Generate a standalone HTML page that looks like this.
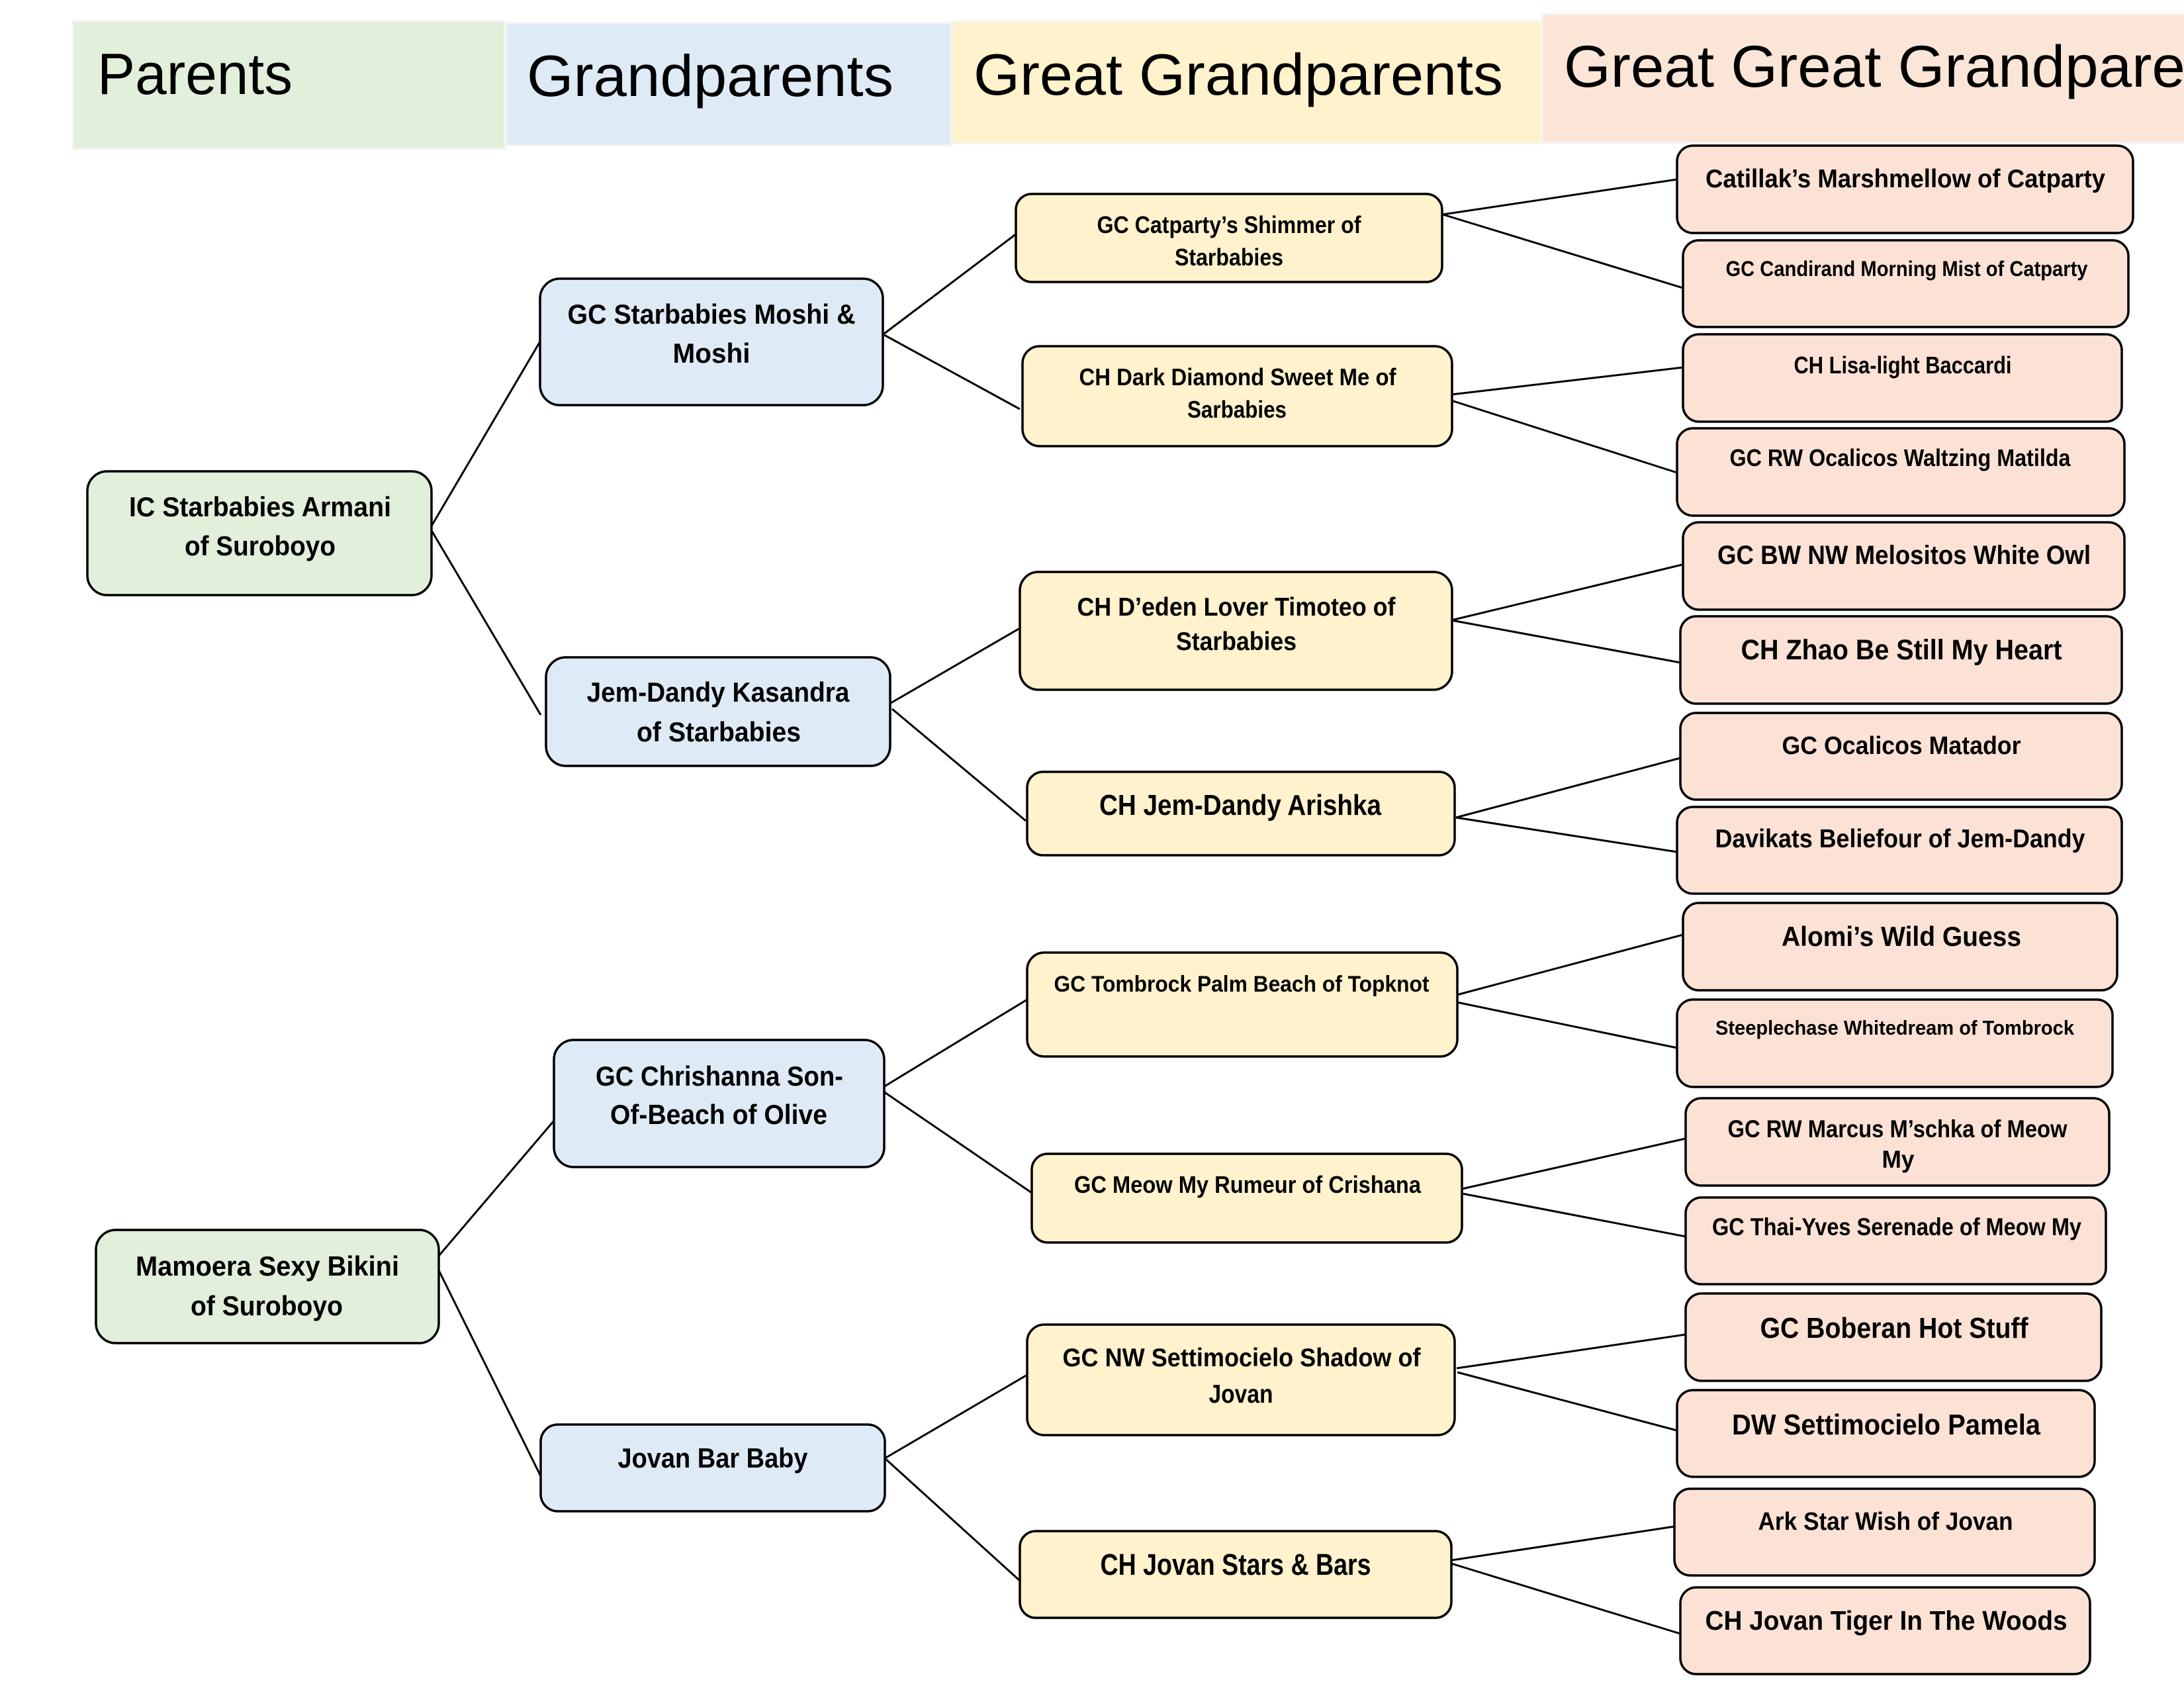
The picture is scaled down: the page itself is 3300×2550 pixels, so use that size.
<!DOCTYPE html>
<html>
<head>
<meta charset="utf-8">
<style>
html,body{margin:0;padding:0;background:#fff;}
body{width:3300px;height:2550px;overflow:hidden;}
svg{display:block;}
text{font-family:"Liberation Sans",Arial,sans-serif;fill:#000;}
.b{font-weight:bold;}
.hd{font-weight:normal;}
.g{fill:#E2EFDA;stroke:#000;stroke-width:3.5;}
.bl{fill:#DEEBF7;stroke:#000;stroke-width:3.5;}
.y{fill:#FFF2CC;stroke:#000;stroke-width:3.5;}
.p{fill:#FBE2D5;stroke:#000;stroke-width:3.5;}
line{stroke:#000;stroke-width:3;}
</style>
</head>
<body>
<svg width="3300" height="2550" viewBox="0 0 3300 2550" xmlns="http://www.w3.org/2000/svg">
<rect x="0" y="0" width="3300" height="2550" fill="#fff"/>

<!-- Header bands -->
<rect x="110" y="32" width="653" height="193" fill="#E2EFDA" stroke="#f4f4f4" stroke-width="3"/>
<rect x="765" y="35" width="672" height="185" fill="#DEEBF7" stroke="#f4f4f4" stroke-width="3"/>
<rect x="1438" y="32" width="891" height="185" fill="#FFF2CC" stroke="#f4f4f4" stroke-width="3"/>
<rect x="2330" y="21" width="980" height="195" fill="#FBE5D6" stroke="#f4f4f4" stroke-width="3"/>
<text class="hd" x="147" y="142" font-size="88" textLength="295" lengthAdjust="spacingAndGlyphs">Parents</text>
<text class="hd" x="796" y="145" font-size="88" textLength="554" lengthAdjust="spacingAndGlyphs">Grandparents</text>
<text class="hd" x="1471" y="143" font-size="88" textLength="800" lengthAdjust="spacingAndGlyphs">Great Grandparents</text>
<text class="hd" x="2363" y="131" font-size="89" textLength="1060" lengthAdjust="spacingAndGlyphs">Great Great Grandparents</text>

<!-- Connectors -->
<line x1="650" y1="798" x2="816" y2="516"/>
<line x1="650" y1="798" x2="817" y2="1080"/>
<line x1="658" y1="1903" x2="837" y2="1693"/>
<line x1="658" y1="1909" x2="817" y2="2230"/>
<line x1="1336" y1="504" x2="1536" y2="353"/>
<line x1="1336" y1="506" x2="1541" y2="618"/>
<line x1="1346" y1="1062" x2="1541" y2="949"/>
<line x1="1348" y1="1071" x2="1550" y2="1240"/>
<line x1="1335" y1="1642" x2="1552" y2="1510"/>
<line x1="1335" y1="1649" x2="1559" y2="1802"/>
<line x1="1337" y1="2203" x2="1552" y2="2077"/>
<line x1="1337" y1="2203" x2="1541" y2="2388"/>
<line x1="2180" y1="324" x2="2534" y2="271"/>
<line x1="2180" y1="324" x2="2543" y2="435"/>
<line x1="2193" y1="596" x2="2543" y2="555"/>
<line x1="2193" y1="605" x2="2534" y2="714"/>
<line x1="2193" y1="937" x2="2546" y2="852"/>
<line x1="2193" y1="937" x2="2539" y2="1001"/>
<line x1="2200" y1="1235" x2="2543" y2="1144"/>
<line x1="2200" y1="1235" x2="2534" y2="1287"/>
<line x1="2201" y1="1503" x2="2543" y2="1412"/>
<line x1="2201" y1="1514" x2="2534" y2="1583"/>
<line x1="2209" y1="1796" x2="2547" y2="1720"/>
<line x1="2209" y1="1803" x2="2547" y2="1868"/>
<line x1="2201" y1="2067" x2="2547" y2="2016"/>
<line x1="2202" y1="2073" x2="2534" y2="2161"/>
<line x1="2193" y1="2357" x2="2530" y2="2306"/>
<line x1="2193" y1="2362" x2="2539" y2="2468"/>

<!-- Parents -->
<rect class="g" x="132" y="712" width="520" height="187" rx="30"/>
<text class="b" x="393" y="780" font-size="42" text-anchor="middle" textLength="396" lengthAdjust="spacingAndGlyphs">IC Starbabies Armani</text>
<text class="b" x="393" y="839" font-size="42" text-anchor="middle" textLength="228" lengthAdjust="spacingAndGlyphs">of Suroboyo</text>

<rect class="g" x="145" y="1858" width="518" height="171" rx="30"/>
<text class="b" x="404" y="1927" font-size="42" text-anchor="middle" textLength="398" lengthAdjust="spacingAndGlyphs">Mamoera Sexy Bikini</text>
<text class="b" x="403" y="1987" font-size="42" text-anchor="middle" textLength="230" lengthAdjust="spacingAndGlyphs">of Suroboyo</text>

<!-- Grandparents -->
<rect class="bl" x="816" y="421" width="518" height="191" rx="30"/>
<text class="b" x="1075" y="489" font-size="42" text-anchor="middle" textLength="435" lengthAdjust="spacingAndGlyphs">GC Starbabies Moshi &amp;</text>
<text class="b" x="1075" y="548" font-size="42" text-anchor="middle" textLength="117" lengthAdjust="spacingAndGlyphs">Moshi</text>

<rect class="bl" x="825" y="993" width="520" height="164" rx="30"/>
<text class="b" x="1085" y="1060" font-size="42" text-anchor="middle" textLength="397" lengthAdjust="spacingAndGlyphs">Jem-Dandy Kasandra</text>
<text class="b" x="1086" y="1120" font-size="42" text-anchor="middle" textLength="248" lengthAdjust="spacingAndGlyphs">of Starbabies</text>

<rect class="bl" x="837" y="1571" width="499" height="192" rx="30"/>
<text class="b" x="1087" y="1640" font-size="42" text-anchor="middle" textLength="374" lengthAdjust="spacingAndGlyphs">GC Chrishanna Son-</text>
<text class="b" x="1086" y="1698" font-size="42" text-anchor="middle" textLength="328" lengthAdjust="spacingAndGlyphs">Of-Beach of Olive</text>

<rect class="bl" x="817" y="2152" width="520" height="131" rx="26"/>
<text class="b" x="1077" y="2217" font-size="42" text-anchor="middle" textLength="287" lengthAdjust="spacingAndGlyphs">Jovan Bar Baby</text>

<!-- Great Grandparents -->
<rect class="y" x="1535" y="293" width="644" height="133" rx="24"/>
<text class="b" x="1857" y="352" font-size="36" text-anchor="middle" textLength="399" lengthAdjust="spacingAndGlyphs">GC Catparty’s Shimmer of</text>
<text class="b" x="1857" y="401" font-size="36" text-anchor="middle" textLength="164" lengthAdjust="spacingAndGlyphs">Starbabies</text>

<rect class="y" x="1545" y="523" width="649" height="151" rx="26"/>
<text class="b" x="1870" y="582" font-size="36" text-anchor="middle" textLength="479" lengthAdjust="spacingAndGlyphs">CH Dark Diamond Sweet Me of</text>
<text class="b" x="1869" y="631" font-size="36" text-anchor="middle" textLength="150" lengthAdjust="spacingAndGlyphs">Sarbabies</text>

<rect class="y" x="1541" y="864" width="653" height="178" rx="28"/>
<text class="b" x="1868" y="930" font-size="39" text-anchor="middle" textLength="481" lengthAdjust="spacingAndGlyphs">CH D’eden Lover Timoteo of</text>
<text class="b" x="1868" y="982" font-size="39" text-anchor="middle" textLength="182" lengthAdjust="spacingAndGlyphs">Starbabies</text>

<rect class="y" x="1552" y="1166" width="646" height="126" rx="24"/>
<text class="b" x="1874" y="1231" font-size="44" text-anchor="middle" textLength="426" lengthAdjust="spacingAndGlyphs">CH Jem-Dandy Arishka</text>

<rect class="y" x="1552" y="1439" width="650" height="157" rx="26"/>
<text class="b" x="1876" y="1498" font-size="34" text-anchor="middle" textLength="567" lengthAdjust="spacingAndGlyphs">GC Tombrock Palm Beach of Topknot</text>

<rect class="y" x="1559" y="1743" width="650" height="134" rx="24"/>
<text class="b" x="1885" y="1802" font-size="36" text-anchor="middle" textLength="524" lengthAdjust="spacingAndGlyphs">GC Meow My Rumeur of Crishana</text>

<rect class="y" x="1552" y="2001" width="646" height="167" rx="26"/>
<text class="b" x="1876" y="2064" font-size="39" text-anchor="middle" textLength="541" lengthAdjust="spacingAndGlyphs">GC NW Settimocielo Shadow of</text>
<text class="b" x="1875" y="2119" font-size="39" text-anchor="middle" textLength="97" lengthAdjust="spacingAndGlyphs">Jovan</text>

<rect class="y" x="1541" y="2313" width="652" height="131" rx="24"/>
<text class="b" x="1867" y="2379" font-size="45" text-anchor="middle" textLength="409" lengthAdjust="spacingAndGlyphs">CH Jovan Stars &amp; Bars</text>

<!-- Great Great Grandparents -->
<rect class="p" x="2534" y="220" width="689" height="132" rx="24"/>
<text class="b" x="2879" y="283" font-size="39" text-anchor="middle" textLength="604" lengthAdjust="spacingAndGlyphs">Catillak’s Marshmellow of Catparty</text>

<rect class="p" x="2543" y="363" width="673" height="131" rx="24"/>
<text class="b" x="2881" y="417" font-size="32" text-anchor="middle" textLength="547" lengthAdjust="spacingAndGlyphs">GC Candirand Morning Mist of Catparty</text>

<rect class="p" x="2543" y="505" width="663" height="132" rx="24"/>
<text class="b" x="2875" y="564" font-size="36" text-anchor="middle" textLength="329" lengthAdjust="spacingAndGlyphs">CH Lisa-light Baccardi</text>

<rect class="p" x="2534" y="647" width="676" height="132" rx="24"/>
<text class="b" x="2871" y="704" font-size="36" text-anchor="middle" textLength="515" lengthAdjust="spacingAndGlyphs">GC RW Ocalicos Waltzing Matilda</text>

<rect class="p" x="2543" y="789" width="667" height="132" rx="24"/>
<text class="b" x="2877" y="852" font-size="40" text-anchor="middle" textLength="564" lengthAdjust="spacingAndGlyphs">GC BW NW Melositos White Owl</text>

<rect class="p" x="2539" y="931" width="667" height="132" rx="24"/>
<text class="b" x="2873" y="996" font-size="43" text-anchor="middle" textLength="485" lengthAdjust="spacingAndGlyphs">CH Zhao Be Still My Heart</text>

<rect class="p" x="2539" y="1077" width="667" height="131" rx="24"/>
<text class="b" x="2873" y="1139" font-size="38" text-anchor="middle" textLength="361" lengthAdjust="spacingAndGlyphs">GC Ocalicos Matador</text>

<rect class="p" x="2534" y="1219" width="672" height="131" rx="24"/>
<text class="b" x="2871" y="1280" font-size="39" text-anchor="middle" textLength="559" lengthAdjust="spacingAndGlyphs">Davikats Beliefour of Jem-Dandy</text>

<rect class="p" x="2543" y="1364" width="656" height="132" rx="24"/>
<text class="b" x="2873" y="1429" font-size="42" text-anchor="middle" textLength="362" lengthAdjust="spacingAndGlyphs">Alomi’s Wild Guess</text>

<rect class="p" x="2534" y="1510" width="658" height="132" rx="24"/>
<text class="b" x="2863" y="1563" font-size="31" text-anchor="middle" textLength="542" lengthAdjust="spacingAndGlyphs">Steeplechase Whitedream of Tombrock</text>

<rect class="p" x="2547" y="1659" width="640" height="132" rx="24"/>
<text class="b" x="2867" y="1718" font-size="37" text-anchor="middle" textLength="513" lengthAdjust="spacingAndGlyphs">GC RW Marcus M’schka of Meow</text>
<text class="b" x="2868" y="1764" font-size="37" text-anchor="middle" textLength="49" lengthAdjust="spacingAndGlyphs">My</text>

<rect class="p" x="2547" y="1809" width="635" height="131" rx="24"/>
<text class="b" x="2866" y="1866" font-size="37" text-anchor="middle" textLength="558" lengthAdjust="spacingAndGlyphs">GC Thai-Yves Serenade of Meow My</text>

<rect class="p" x="2547" y="1954" width="628" height="132" rx="24"/>
<text class="b" x="2862" y="2021" font-size="44" text-anchor="middle" textLength="405" lengthAdjust="spacingAndGlyphs">GC Boberan Hot Stuff</text>

<rect class="p" x="2534" y="2100" width="631" height="131" rx="24"/>
<text class="b" x="2850" y="2167" font-size="44" text-anchor="middle" textLength="466" lengthAdjust="spacingAndGlyphs">DW Settimocielo Pamela</text>

<rect class="p" x="2530" y="2249" width="635" height="131" rx="24"/>
<text class="b" x="2849" y="2311" font-size="38" text-anchor="middle" textLength="385" lengthAdjust="spacingAndGlyphs">Ark Star Wish of Jovan</text>

<rect class="p" x="2539" y="2398" width="619" height="131" rx="24"/>
<text class="b" x="2850" y="2462" font-size="41" text-anchor="middle" textLength="547" lengthAdjust="spacingAndGlyphs">CH Jovan Tiger In The Woods</text>
</svg>
</body>
</html>
